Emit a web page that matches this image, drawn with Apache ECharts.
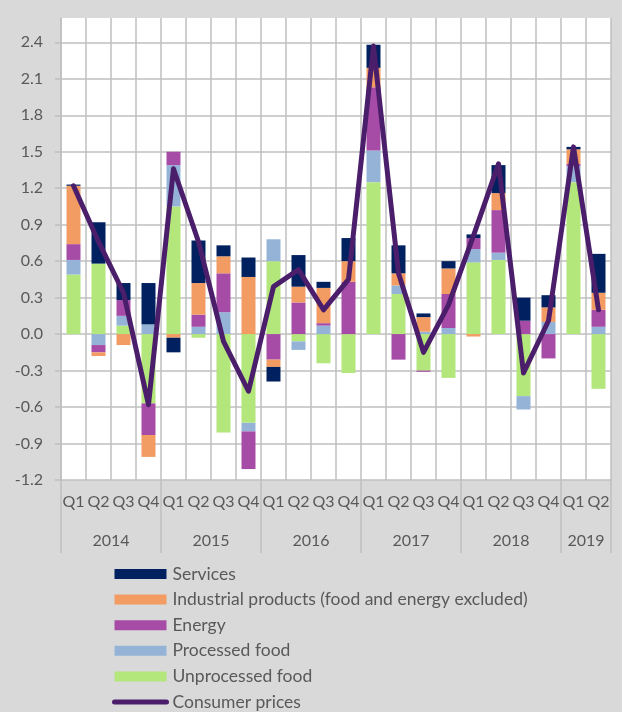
<!DOCTYPE html>
<html>
<head>
<meta charset="utf-8">
<script src="https://cdn.jsdelivr.net/npm/echarts@6/dist/echarts.min.js"></script>
<style>
  html, body { margin: 0; padding: 0; background: #d9d9d9; }
  #chart { width: 622px; height: 712px; }
</style>
</head>
<body>
<div id="chart"></div>
<script>
// Contributions to consumer price growth, by quarter (percentage points)
const years = ['2014', '2015', '2016', '2017', '2018', '2019'];
const quartersPerYear = [4, 4, 4, 4, 4, 2];

const unprocessedFood = [0.49, 0.58, 0.07, -0.57, 1.05, -0.03, -0.81, -0.73, 0.60, -0.06, -0.24, -0.32,
                         1.25, 0.33, -0.30, -0.36, 0.59, 0.61, -0.51, 0.00, 1.25, -0.45];
const processedFood   = [0.12, -0.09, 0.08, 0.08, 0.34, 0.06, 0.18, -0.07, 0.18, -0.07, 0.07, 0.00,
                         0.26, 0.07, 0.02, 0.05, 0.11, 0.06, -0.11, 0.10, 0.13, 0.06];
const energy          = [0.13, -0.06, 0.13, -0.26, 0.11, 0.10, 0.32, -0.31, -0.21, 0.26, 0.02, 0.43,
                         0.52, -0.21, -0.01, 0.28, 0.09, 0.35, 0.11, -0.20, 0.02, 0.14];
const industrial      = [0.48, -0.03, -0.09, -0.18, -0.03, 0.26, 0.14, 0.47, -0.06, 0.13, 0.29, 0.17,
                         0.16, 0.10, 0.12, 0.21, -0.02, 0.14, 0.00, 0.12, 0.12, 0.14];
const services        = [0.01, 0.34, 0.14, 0.34, -0.12, 0.35, 0.09, 0.16, -0.12, 0.26, 0.05, 0.19,
                         0.19, 0.23, 0.03, 0.06, 0.03, 0.23, 0.19, 0.10, 0.02, 0.32];
const consumerPrices  = [1.22, 0.76, 0.34, -0.58, 1.36, 0.76, -0.06, -0.47, 0.39, 0.53, 0.20, 0.45,
                         2.37, 0.50, -0.15, 0.24, 0.81, 1.40, -0.32, 0.11, 1.54, 0.20];

// Quarter labels for the band axis, and boundary slots for the year axis
const quarterLabels = [];
quartersPerYear.forEach(n => { for (let q = 1; q <= n; q++) quarterLabels.push('Q' + q); });

const boundarySlots = [0];
const yearSlotLabels = new Array(quarterLabels.length + 1).fill('');
let start = 0;
years.forEach((y, i) => {
  const n = quartersPerYear[i];
  yearSlotLabels[start + n / 2] = y;
  start += n;
  boundarySlots.push(start);
});
const yearLabelSlots = new Set(years.map(y => yearSlotLabels.indexOf(y)));
const boundarySet = new Set(boundarySlots);

const FONT = 'Lato';
const GRID_GRAY = '#bfbfbf';
const TEXT_GRAY = '#595959';
const LINE_COLOR = '#4b1e6b';

const chart = echarts.init(document.getElementById('chart'), null, { renderer: 'canvas' });

const barSeries = (name, data, color) => ({
  name, type: 'bar', stack: 'total', data,
  barWidth: 14,
  itemStyle: { color },
  emphasis: { disabled: true },
  xAxisIndex: 0, yAxisIndex: 0
});

chart.setOption({
  backgroundColor: '#d9d9d9',
  animation: false,
  textStyle: { fontFamily: FONT },
  grid: {
    left: 61, right: 11, top: 18, bottom: 232,
    show: true, backgroundColor: '#ffffff', borderWidth: 0
  },
  legend: {
    orient: 'vertical',
    left: 112, top: 565,
    padding: 0,
    itemWidth: 52, itemHeight: 10, itemGap: 7.6,
    textStyle: { fontFamily: FONT, fontSize: 17.5, color: TEXT_GRAY, lineHeight: 16, padding: [0, 0, 0, 1] },
    data: [
      { name: 'Services', icon: 'rect' },
      { name: 'Industrial products (food and energy excluded)', icon: 'rect' },
      { name: 'Energy', icon: 'rect' },
      { name: 'Processed food', icon: 'rect' },
      { name: 'Unprocessed food', icon: 'rect' },
      {
        name: 'Consumer prices',
        itemStyle: { opacity: 0 },
        lineStyle: { color: LINE_COLOR, width: 5, cap: 'round' }
      }
    ]
  },
  xAxis: [
    {
      type: 'category',
      data: quarterLabels,
      boundaryGap: true,
      axisLine: { show: false, onZero: false },
      axisTick: { show: false },
      axisLabel: { interval: 0, margin: 14, fontFamily: FONT, fontSize: 16, color: TEXT_GRAY },
      splitLine: { show: true, interval: 0, lineStyle: { color: GRID_GRAY, width: 1.5 } }
    },
    {
      type: 'category',
      position: 'bottom',
      data: yearSlotLabels,
      boundaryGap: false,
      axisLine: { show: false, onZero: false },
      axisTick: {
        show: true, length: 73,
        interval: (idx) => boundarySet.has(idx),
        lineStyle: { color: GRID_GRAY, width: 1.5 }
      },
      axisLabel: {
        margin: 53,
        interval: (idx) => yearLabelSlots.has(idx),
        fontFamily: FONT, fontSize: 16, color: TEXT_GRAY
      },
      splitLine: { show: false }
    }
  ],
  yAxis: {
    type: 'value',
    min: -1.2, max: 2.6, interval: 0.3,
    axisLine: { show: true, lineStyle: { color: GRID_GRAY, width: 1.5 } },
    axisTick: { show: true, length: 6, lineStyle: { color: GRID_GRAY, width: 1.5 } },
    axisLabel: {
      margin: 18, showMaxLabel: false,
      fontFamily: FONT, fontSize: 16, color: TEXT_GRAY,
      formatter: (v) => v.toFixed(1)
    },
    splitLine: { show: true, showMaxLine: false, lineStyle: { color: GRID_GRAY, width: 1.5 } }
  },
  series: [
    barSeries('Unprocessed food', unprocessedFood, '#b3e67b'),
    barSeries('Processed food', processedFood, '#95b3d7'),
    barSeries('Energy', energy, '#a64ca6'),
    barSeries('Industrial products (food and energy excluded)', industrial, '#f29b62'),
    barSeries('Services', services, '#002060'),
    {
      name: 'Consumer prices', type: 'line', data: consumerPrices,
      symbol: 'none', smooth: false, z: 5,
      lineStyle: { color: LINE_COLOR, width: 5, join: 'round', cap: 'round' },
      itemStyle: { color: LINE_COLOR },
      emphasis: { disabled: true }
    }
  ]
});
</script>
</body>
</html>
